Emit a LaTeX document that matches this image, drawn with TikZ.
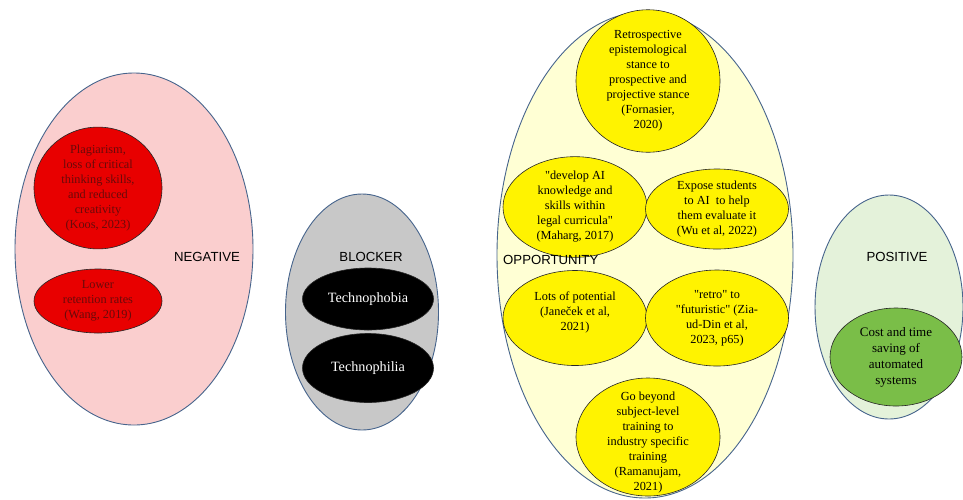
\documentclass[tikz,border=0pt]{standalone}
\usepackage{fontspec}
\setmainfont{Liberation Serif}[Ligatures=TeXOff]
\newfontfamily\labelfont{Liberation Sans}
\usetikzlibrary{shapes.geometric}
\definecolor{negfill}{RGB}{250,206,206}
\definecolor{redfill}{RGB}{232,0,0}
\definecolor{blkfill}{RGB}{200,200,200}
\definecolor{oppfill}{RGB}{255,255,212}
\definecolor{yelfill}{RGB}{255,243,0}
\definecolor{posfill}{RGB}{228,242,218}
\definecolor{grnfill}{RGB}{122,190,72}
\definecolor{outline}{RGB}{70,100,140}
\definecolor{redtext}{RGB}{105,10,10}
\tikzset{
  outer/.style={ellipse, draw=outline, line width=0.9pt, inner sep=0pt},
  inner/.style={ellipse, draw=black!85, line width=0.6pt, inner sep=0pt, align=center,
    font=\fontsize{12.3}{15}\selectfont},
  lbl/.style={font=\labelfont\fontsize{13.2}{15}\selectfont, inner sep=0pt},
  txt/.style={align=center, inner sep=0pt, font=\fontsize{12.3}{15}\selectfont}
}
\begin{document}
\begin{tikzpicture}[x=1pt,y=-1pt]
\useasboundingbox (0,0) rectangle (963,499);
% NEGATIVE
\node[outer, fill=negfill, minimum width=238pt, minimum height=352pt] (neg) at (134,249) {};
\node[inner, fill=redfill, text=redtext, minimum width=128pt, minimum height=112pt] (plag) at (98,188)
  {Plagiarism,\\ loss of critical\\ thinking skills,\\ and reduced\\ creativity\\ (Koos, 2023)};
\node[inner, fill=redfill, text=redtext, minimum width=128pt, minimum height=64pt] (lower) at (98,301)
  {Lower\\ retention rates\\ (Wang, 2019)};
\node[lbl] (neglbl) at (207,257) {NEGATIVE};
% BLOCKER
\node[outer, fill=blkfill, minimum width=153pt, minimum height=236pt] (blk) at (362,312) {};
\node[lbl] (blklbl) at (371,257) {BLOCKER};
\node[inner, fill=black, text=white, font=\fontsize{14.2}{16}\selectfont, minimum width=131pt, minimum height=62pt] (phob) at (368,299) {Technophobia};
\node[inner, fill=black, text=white, font=\fontsize{14.2}{16}\selectfont, minimum width=131pt, minimum height=69pt] (phil) at (368,368) {Technophilia};
% OPPORTUNITY
\node[outer, fill=oppfill, minimum width=296pt, minimum height=486pt] (opp) at (645,255) {};
\node[inner, fill=yelfill, minimum width=144pt, minimum height=118pt] (retrosp) at (648,81)
  {Retrospective\\ epistemological\\ stance to\\ prospective and\\ projective stance\\ (Fornasier,\\ 2020)};
\node[inner, fill=yelfill, minimum width=144pt, minimum height=82pt] (develop) at (575,207)
  {"develop AI\\ knowledge and\\ skills within\\ legal curricula"\\ (Maharg, 2017)};
\node[inner, fill=yelfill, minimum width=143pt, minimum height=80pt] (expose) at (717,209)
  {Expose students\\ to AI\ \ to help\\ them evaluate it\\ (Wu et al, 2022)};
\node[lbl, anchor=west] (opplbl) at (503,260) {OPPORTUNITY};
\node[inner, fill=yelfill, minimum width=144pt, minimum height=95pt] (lots) at (575,318) {};
\node[txt] (lotstxt) at (575,312) {Lots of potential\\ (Janeček et al,\\ 2021)};
\node[inner, fill=yelfill, minimum width=143pt, minimum height=96pt] (retro) at (717,318)
  {"retro" to\\ "futuristic" (Zia-\\ ud-Din et al,\\ 2023, p65)};
\node[inner, fill=yelfill, minimum width=144pt, minimum height=118pt] (beyond) at (648,437) {};
\node[txt] (beyondtxt) at (648,443)
  {Go beyond\\ subject-level\\ training to\\ industry specific\\ training\\ (Ramanujam,\\ 2021)};
% POSITIVE
\node[outer, fill=posfill, minimum width=148pt, minimum height=224pt] (pos) at (889,307) {};
\node[lbl] (poslbl) at (897,257) {POSITIVE};
\node[inner, fill=grnfill, font=\fontsize{13}{16}\selectfont, minimum width=132pt, minimum height=98pt] (cost) at (896,357)
  {Cost and time\\ saving of\\ automated\\ systems};
\end{tikzpicture}
\end{document}
